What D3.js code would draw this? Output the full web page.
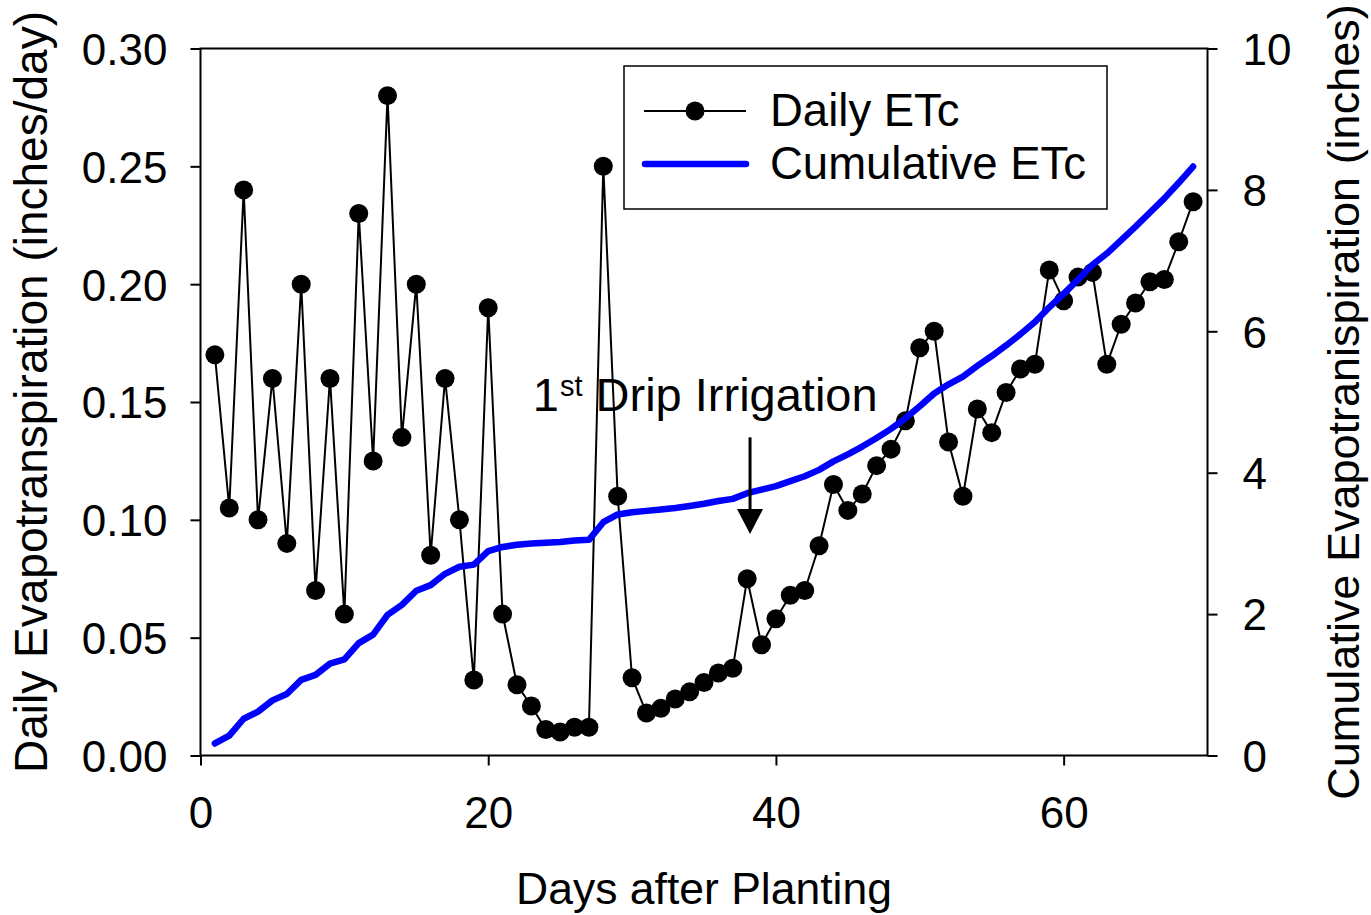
<!DOCTYPE html>
<html>
<head>
<meta charset="utf-8">
<script src="https://cdn.jsdelivr.net/npm/d3@7"></script>
<style>
  body { margin: 0; background: #fff; }
  svg { font-family: "Liberation Sans", Arial, sans-serif; }
  .axis path, .axis line { stroke: #000; stroke-width: 2; }
  .axis text { font-size: 44px; fill: #000; font-family: "Liberation Sans", Arial, sans-serif; }
</style>
</head>
<body>
<svg width="1371" height="915"></svg>
<script>
var days = [1,2,3,4,5,6,7,8,9,10,11,12,13,14,15,16,17,18,19,20,21,22,23,
  24,25,26,27,28,29,30,31,32,33,34,35,36,37,38,39,40,41,42,43,44,45,46,
  47,48,49,50,51,52,53,54,55,56,57,58,59,60,61,62,63,64,65,66,67,68,69];

// daily ETc, inches/day
var dailyETc = [0.170,0.105,0.240,0.100,0.160,0.090,0.200,0.070,0.160,0.060,
  0.230,0.125,0.280,0.135,0.200,0.085,0.160,0.100,0.032,0.190,
  0.060,0.030,0.021,0.011,0.010,0.012,0.012,0.250,0.110,0.033,
  0.018,0.020,0.024,0.027,0.031,0.035,0.037,0.075,0.047,0.058,
  0.068,0.070,0.089,0.115,0.104,0.111,0.123,0.130,0.142,0.173,
  0.180,0.133,0.110,0.147,0.137,0.154,0.164,0.166,0.206,0.193,
  0.203,0.205,0.166,0.183,0.192,0.201,0.202,0.218,0.235];

// cumulative ETc, inches
var cumulativeETc = [0.17,0.28,0.52,0.62,0.78,0.87,1.07,1.14,1.30,1.36,
  1.59,1.71,1.99,2.13,2.33,2.41,2.57,2.67,2.70,2.89,
  2.95,2.98,3.00,3.01,3.02,3.04,3.05,3.30,3.41,3.44,
  3.46,3.48,3.50,3.53,3.56,3.60,3.63,3.71,3.76,3.81,
  3.88,3.95,4.04,4.16,4.26,4.37,4.49,4.62,4.77,4.94,
  5.12,5.25,5.36,5.51,5.65,5.80,5.96,6.13,6.34,6.53,
  6.73,6.94,7.10,7.29,7.48,7.68,7.88,8.10,8.33];

var xTicks = [0, 20, 40, 60];
var leftTicks = [0, 0.05, 0.10, 0.15, 0.20, 0.25, 0.30];
var rightTicks = [0, 2, 4, 6, 8, 10];

// arrow: day, top value, tip value (left axis units); label anchor
var arrowMark = {day: 38.2, top: 0.135, tip: 0.094};
var noteMark = {day: 23.1, value: 0.146};

var svg = d3.select("svg");

var x = d3.scaleLinear().domain([0, 70]).range([200.5, 1207.5]);
var yLeft = d3.scaleLinear().domain([0, 0.30]).range([755.5, 48.5]);
var yRight = d3.scaleLinear().domain([0, 10]).range([755.5, 48.5]);

// frame
svg.append("rect")
    .attr("x", x(0))
    .attr("y", yLeft(0.30))
    .attr("width", x(70) - x(0))
    .attr("height", yLeft(0) - yLeft(0.30))
    .attr("fill", "none")
    .attr("stroke", "#000")
    .attr("stroke-width", 2);

svg.append("g")
    .attr("class", "axis x")
    .attr("transform", "translate(0," + yLeft(0) + ")")
    .call(d3.axisBottom(x).tickValues(xTicks).tickSize(10).tickSizeOuter(0).tickPadding(31)
      .tickFormat(d3.format("d")));

svg.append("g")
    .attr("class", "axis y")
    .attr("transform", "translate(" + x(0) + ",0)")
    .call(d3.axisLeft(yLeft).tickValues(leftTicks).tickSize(10).tickSizeOuter(0).tickPadding(23)
      .tickFormat(d3.format(".2f")));

svg.append("g")
    .attr("class", "axis y")
    .attr("transform", "translate(" + x(70) + ",0)")
    .call(d3.axisRight(yRight).tickValues(rightTicks).tickSize(10).tickSizeOuter(0).tickPadding(25)
      .tickFormat(d3.format("d")));

svg.selectAll(".axis .domain").remove();
svg.selectAll(".axis.y text").attr("dy", "0.36em");

// axis titles
svg.append("text")
    .attr("x", 704)
    .attr("y", 904)
    .attr("text-anchor", "middle")
    .attr("font-size", 44.5)
    .text("Days after Planting");

svg.append("text")
    .attr("transform", "translate(47,392) rotate(-90)")
    .attr("text-anchor", "middle")
    .attr("font-size", 46)
    .text("Daily Evapotranspiration (inches/day)");

svg.append("text")
    .attr("transform", "translate(1359,402) rotate(-90)")
    .attr("text-anchor", "middle")
    .attr("font-size", 45)
    .text("Cumulative Evapotranispiration (inches)");

// daily series
var dailyLine = d3.line()
    .x(function(d, i) { return x(days[i]); })
    .y(function(d) { return yLeft(d); });

svg.append("path")
    .datum(dailyETc)
    .attr("d", dailyLine)
    .attr("fill", "none")
    .attr("stroke", "#000")
    .attr("stroke-width", 2);

svg.append("g")
  .selectAll("circle")
  .data(dailyETc)
  .enter().append("circle")
    .attr("cx", function(d, i) { return x(days[i]); })
    .attr("cy", function(d) { return yLeft(d); })
    .attr("r", 9.5)
    .attr("fill", "#000");

// cumulative series
var cumLine = d3.line()
    .x(function(d, i) { return x(days[i]); })
    .y(function(d) { return yRight(d); });

svg.append("path")
    .datum(cumulativeETc)
    .attr("d", cumLine)
    .attr("fill", "none")
    .attr("stroke", "#0000ff")
    .attr("stroke-width", 6.5)
    .attr("stroke-linecap", "round")
    .attr("stroke-linejoin", "round");

// annotation
var note = svg.append("text")
    .attr("x", x(noteMark.day))
    .attr("y", yLeft(noteMark.value))
    .attr("font-size", 47);
note.append("tspan").text("1");
note.append("tspan").attr("font-size", 29).attr("dy", -15).attr("dx", 1).text("st");
note.append("tspan").attr("dy", 15).text(" Drip Irrigation");

var ax = x(arrowMark.day);
svg.append("line")
    .attr("x1", ax).attr("x2", ax)
    .attr("y1", yLeft(arrowMark.top))
    .attr("y2", yLeft(arrowMark.tip) - 20)
    .attr("stroke", "#000")
    .attr("stroke-width", 3);

svg.append("path")
    .attr("d", "M" + (ax - 13) + "," + (yLeft(arrowMark.tip) - 25) +
               "L" + (ax + 13) + "," + (yLeft(arrowMark.tip) - 25) +
               "L" + ax + "," + yLeft(arrowMark.tip) + "Z")
    .attr("fill", "#000");

// legend
var legend = svg.append("g").attr("transform", "translate(624,66)");

legend.append("rect")
    .attr("width", 483)
    .attr("height", 143)
    .attr("fill", "#fff")
    .attr("stroke", "#000")
    .attr("stroke-width", 1.5);

legend.append("line")
    .attr("x1", 20).attr("x2", 122)
    .attr("y1", 45).attr("y2", 45)
    .attr("stroke", "#000")
    .attr("stroke-width", 2);

legend.append("circle")
    .attr("cx", 71).attr("cy", 45)
    .attr("r", 9.5)
    .attr("fill", "#000");

legend.append("line")
    .attr("x1", 21).attr("x2", 122)
    .attr("y1", 98).attr("y2", 98)
    .attr("stroke", "#0000ff")
    .attr("stroke-width", 6.5)
    .attr("stroke-linecap", "round");

legend.append("text")
    .attr("x", 146).attr("y", 60)
    .attr("font-size", 45.5)
    .text("Daily ETc");

legend.append("text")
    .attr("x", 146).attr("y", 113)
    .attr("font-size", 45.5)
    .text("Cumulative ETc");
</script>
</body>
</html>
